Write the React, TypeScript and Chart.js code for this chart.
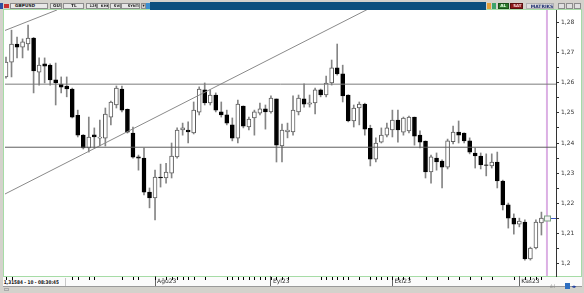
import React, { useEffect, useRef } from "react";
import { Chart, registerables } from "chart.js";

Chart.register(...registerables);

// ---- data ----
const opens = [
  1.2619, 1.2668, 1.2728, 1.2718, 1.2728, 1.2748, 1.2635, 1.2662, 1.2658, 1.2609,
  1.2595, 1.2589, 1.2579, 1.2492, 1.2426, 1.2384, 1.2427, 1.2416, 1.2416, 1.2486,
  1.2526, 1.2579, 1.2512, 1.2433, 1.2354, 1.2350, 1.2237, 1.2218, 1.2287, 1.2284,
  1.2300, 1.2354, 1.2443, 1.2443, 1.2433, 1.2502, 1.2576, 1.2533, 1.2559, 1.2503,
  1.2493, 1.2460, 1.2416, 1.2522, 1.2453, 1.2483, 1.2499, 1.2513, 1.2503, 1.2546,
  1.2390, 1.2437, 1.2437, 1.2503, 1.2546, 1.2529, 1.2533, 1.2576, 1.2559, 1.2599,
  1.2649, 1.2629, 1.2559, 1.2473, 1.2516, 1.2529, 1.2449, 1.2346, 1.2403, 1.2426,
  1.2443, 1.2476, 1.2436, 1.2440, 1.2486, 1.2426, 1.2406, 1.2304, 1.2350, 1.2340,
  1.2320, 1.2404, 1.2436, 1.2433, 1.2407, 1.2367, 1.2357, 1.2328, 1.2324, 1.2337,
  1.2274, 1.2195, 1.2151, 1.2131, 1.2138, 1.2016, 1.2052, 1.2135,
];
const highs = [
  1.2685, 1.2774, 1.2751, 1.2745, 1.2791, 1.2750, 1.2682, 1.2682, 1.2662, 1.2665,
  1.2619, 1.2619, 1.2582, 1.2509, 1.2428, 1.2486, 1.2450, 1.2476, 1.2516, 1.2539,
  1.2589, 1.2589, 1.2513, 1.2453, 1.2360, 1.2383, 1.2251, 1.2310, 1.2330, 1.2333,
  1.2400, 1.2450, 1.2466, 1.2470, 1.2536, 1.2586, 1.2599, 1.2576, 1.2566, 1.2536,
  1.2509, 1.2483, 1.2542, 1.2523, 1.2486, 1.2509, 1.2532, 1.2526, 1.2556, 1.2546,
  1.2463, 1.2466, 1.2556, 1.2559, 1.2596, 1.2559, 1.2582, 1.2579, 1.2622, 1.2675,
  1.2728, 1.2658, 1.2560, 1.2526, 1.2536, 1.2532, 1.2459, 1.2417, 1.2450, 1.2466,
  1.2509, 1.2509, 1.2486, 1.2489, 1.2486, 1.2440, 1.2407, 1.2360, 1.2367, 1.2344,
  1.2413, 1.2456, 1.2473, 1.2434, 1.2417, 1.2383, 1.2367, 1.2364, 1.2364, 1.2370,
  1.2277, 1.2201, 1.2165, 1.2151, 1.2145, 1.2055, 1.2145, 1.2171,
];
const lows = [
  1.2615, 1.2619, 1.2682, 1.2682, 1.2708, 1.2566, 1.2592, 1.2599, 1.2592, 1.2526,
  1.2566, 1.2553, 1.2483, 1.2420, 1.2380, 1.2370, 1.2384, 1.2390, 1.2390, 1.2460,
  1.2516, 1.2503, 1.2433, 1.2350, 1.2310, 1.2228, 1.2185, 1.2145, 1.2254, 1.2267,
  1.2284, 1.2350, 1.2426, 1.2400, 1.2430, 1.2493, 1.2526, 1.2526, 1.2503, 1.2486,
  1.2460, 1.2407, 1.2400, 1.2450, 1.2443, 1.2426, 1.2493, 1.2446, 1.2499, 1.2337,
  1.2337, 1.2417, 1.2426, 1.2493, 1.2519, 1.2519, 1.2496, 1.2553, 1.2553, 1.2592,
  1.2625, 1.2536, 1.2470, 1.2453, 1.2460, 1.2426, 1.2324, 1.2337, 1.2400, 1.2420,
  1.2420, 1.2403, 1.2426, 1.2433, 1.2393, 1.2384, 1.2284, 1.2267, 1.2310, 1.2251,
  1.2314, 1.2397, 1.2400, 1.2400, 1.2364, 1.2317, 1.2314, 1.2291, 1.2317, 1.2251,
  1.2178, 1.2118, 1.2098, 1.2122, 1.2012, 1.2012, 1.2049, 1.2095,
];
const closes = [
  1.2668, 1.2728, 1.2718, 1.2735, 1.2748, 1.2639, 1.2658, 1.2655, 1.2609, 1.2599,
  1.2585, 1.2579, 1.2486, 1.2426, 1.2384, 1.2420, 1.2420, 1.2420, 1.2496, 1.2536,
  1.2582, 1.2509, 1.2436, 1.2353, 1.2350, 1.2237, 1.2218, 1.2287, 1.2284, 1.2304,
  1.2357, 1.2443, 1.2450, 1.2437, 1.2509, 1.2579, 1.2533, 1.2559, 1.2509, 1.2493,
  1.2466, 1.2416, 1.2529, 1.2456, 1.2479, 1.2503, 1.2513, 1.2503, 1.2549, 1.2393,
  1.2443, 1.2443, 1.2509, 1.2549, 1.2529, 1.2533, 1.2576, 1.2559, 1.2599, 1.2649,
  1.2629, 1.2556, 1.2473, 1.2516, 1.2529, 1.2446, 1.2346, 1.2400, 1.2426, 1.2450,
  1.2476, 1.2443, 1.2483, 1.2486, 1.2423, 1.2403, 1.2304, 1.2354, 1.2337, 1.2320,
  1.2407, 1.2436, 1.2426, 1.2407, 1.2370, 1.2357, 1.2327, 1.2326, 1.2337, 1.2274,
  1.2195, 1.2151, 1.2131, 1.2141, 1.2016, 1.2052, 1.2138, 1.2151,
];

const monthTickIndex = [27, 48, 70, 93];
const monthLabels = ["Ağu23", "Eyl23", "Eki23", "Kas23"];

const yTickValues = [
  1.2, 1.205, 1.21, 1.215, 1.22, 1.225, 1.23, 1.235, 1.24,
  1.245, 1.25, 1.255, 1.26, 1.265, 1.27, 1.275, 1.28,
];
const yTickLabels = [
  "1,2", "", "1,21", "", "1,22", "", "1,23", "", "1,24",
  "", "1,25", "", "1,26", "", "1,27", "", "1,28",
];

const horizontalLevels = [1.2595, 1.2386];
const trendLowerX = [-0.18, 65.4];
const trendLowerY = [1.2231, 1.2842];
const trendUpperX = [-0.18, 9.24];
const trendUpperY = [1.2773, 1.2841];
const cursorIndex = 98;
const markerIndices = [
  0, 1, 12, 13, 15, 16, 21, 23, 24, 27, 29, 30, 31, 32, 33, 34, 36,
  40, 41, 42, 43, 44, 45, 46, 47, 48, 49, 50, 51,
  57, 58, 59, 60, 61, 62, 64, 66, 67, 68, 69, 70, 71, 72, 73,
  76, 78, 80, 82, 84, 86, 88, 92, 94, 95, 96, 97,
];
const statusText = "1,31584 - 10 - 08:30:45";

const X_MIN = -0.181;
const X_MAX = 99.64;
const Y_MIN = 1.19592;
const Y_MAX = 1.28408;

const FONT = "DejaVu Sans";

const overlayPlugin = {
  id: "overlayMarks",
  afterDatasetsDraw(chart: any) {
    const { ctx, chartArea, scales } = chart;
    const xs = scales.x;
    const ys = scales.y;
    ctx.save();
    const lastY = Math.round(ys.getPixelForValue(closes[closes.length - 1])) + 0.5;
    const cx = Math.round(xs.getPixelForValue(cursorIndex));
    ctx.strokeStyle = "#3a56c8";
    ctx.lineWidth = 1;
    ctx.beginPath();
    ctx.moveTo(cx + 3, lastY);
    ctx.lineTo(chartArea.right, lastY);
    ctx.stroke();
    ctx.fillStyle = "#f2f2f2";
    ctx.fillRect(cx - 3, lastY - 2.5, 6, 5);
    ctx.strokeStyle = "#7f9f86";
    ctx.strokeRect(cx - 3 + 0.5, lastY - 2.5, 6, 5);
    ctx.restore();
  },
  afterDraw(chart: any) {
    const { ctx, chartArea, scales } = chart;
    const xs = scales.x;
    ctx.save();
    ctx.fillStyle = "#000";
    markerIndices.forEach((i) => {
      const px = Math.round(xs.getPixelForValue(i));
      ctx.fillRect(px, chartArea.bottom + 1, 1, 3);
    });
    ctx.restore();
  },
};

function lineDs(xs: number[], ys: number[], color: string, width: number) {
  return {
    type: "line" as const,
    data: xs.map((x, k) => ({ x, y: ys[k] })),
    borderColor: color,
    borderWidth: width,
    pointRadius: 0,
    fill: false,
    order: 0,
  };
}

const tinyText = (label: string, scale: number) => (
  <span
    style={{
      display: "inline-block",
      transform: `scale(${scale})`,
      transformOrigin: "center center",
      whiteSpace: "nowrap",
    }}
  >
    {label}
  </span>
);

export default function App() {
  const ref = useRef<HTMLCanvasElement>(null);

  useEffect(() => {
    const canvas = ref.current;
    if (!canvas) return;
    const idx = closes.map((_, i) => i);
    const up = (i: number) => closes[i] >= opens[i];
    const chart = new Chart(canvas, {
      type: "bar",
      data: {
        datasets: [
          lineDs([X_MIN, X_MAX], [horizontalLevels[0], horizontalLevels[0]], "#7b7b7b", 1),
          lineDs([X_MIN, X_MAX], [horizontalLevels[1], horizontalLevels[1]], "#5e5e5e", 1),
          lineDs(trendLowerX, trendLowerY, "#8a8a8a", 1),
          lineDs(trendUpperX, trendUpperY, "#8a8a8a", 1),
          { ...lineDs([cursorIndex, cursorIndex], [Y_MIN, Y_MAX], "#dcb0e4", 2), order: 5 },
          {
            type: "bar",
            data: idx.map((i) => ({ x: i, y: [lows[i], highs[i]] })),
            backgroundColor: "#858585",
            borderWidth: 0,
            barThickness: 1,
            grouped: false,
            order: 3,
          },
          {
            type: "bar",
            data: idx.map((i) => ({ x: i, y: [opens[i], closes[i]] })),
            backgroundColor: idx.map((i) => (up(i) ? "#ffffff" : "#000000")),
            borderColor: idx.map((i) => (up(i) ? "#5c5c5c" : "#000000")),
            borderWidth: 1,
            borderSkipped: false,
            barThickness: 4,
            grouped: false,
            order: 2,
          },
        ] as any,
      },
      options: {
        animation: false,
        responsive: false,
        devicePixelRatio: 1,
        layout: { padding: { left: 5, top: 10, right: 0, bottom: 0 } },
        plugins: { legend: { display: false }, tooltip: { enabled: false } },
        scales: {
          x: {
            type: "linear",
            min: X_MIN,
            max: X_MAX,
            offset: false,
            position: "bottom",
            afterFit: (s: any) => {
              s.height = 17;
            },
            afterBuildTicks: (s: any) => {
              s.ticks = monthTickIndex.map((v) => ({ value: v }));
            },
            ticks: {
              callback: (_v: any, i: number) => monthLabels[i] ?? "",
              align: "start",
              labelOffset: 2,
              padding: -8,
              maxRotation: 0,
              autoSkip: false,
              font: { size: 6, family: FONT },
              color: "#333",
            },
            grid: { drawOnChartArea: false, drawTicks: true, tickLength: 10, color: "#666", offset: false },
            border: { display: false },
          },
          y: {
            type: "linear",
            position: "right",
            min: Y_MIN,
            max: Y_MAX,
            afterFit: (s: any) => {
              s.width = 28;
            },
            afterBuildTicks: (s: any) => {
              s.ticks = yTickValues.map((v) => ({ value: v }));
            },
            ticks: {
              callback: (_v: any, i: number) => yTickLabels[i] ?? "",
              padding: 2,
              autoSkip: false,
              font: { size: 6, family: FONT },
              color: "#333",
            },
            grid: { drawOnChartArea: false, tickLength: 3, color: "#333" },
            border: { display: true, color: "#333", width: 1 },
          },
        },
      } as any,
      plugins: [overlayPlugin],
    });
    return () => chart.destroy();
  }, []);

  const btn = (label: string, left: number, width: number, extra: any = {}, scale = 0.72) => (
    <div
      key={label + left}
      style={{
        position: "absolute",
        top: 3,
        left,
        width,
        height: 6,
        boxSizing: "border-box",
        border: "1px solid #8c8c8c",
        background: "#e6e6e6",
        fontFamily: FONT,
        fontSize: 6,
        fontWeight: "bold",
        lineHeight: "4px",
        textAlign: "center",
        color: "#1e1e1e",
        overflow: "hidden",
        whiteSpace: "nowrap",
        ...extra,
      }}
    >
      {label ? tinyText(label, scale) : null}
    </div>
  );

  return (
    <div
      style={{
        position: "absolute",
        left: 0,
        top: 0,
        width: 584,
        height: 293,
        background: "#d4d2cc",
        overflow: "hidden",
      }}
    >
      <div
        style={{
          position: "absolute",
          left: 3,
          top: 9,
          width: 579,
          height: 268,
          boxSizing: "border-box",
          background: "#ffffff",
          border: "1px solid #a6dca6",
        }}
      />
      <div
        style={{
          position: "absolute",
          left: 3,
          top: 277,
          width: 579,
          height: 10,
          boxSizing: "border-box",
          background: "#fbfbfb",
          borderBottom: "1px solid #9a9a9a",
        }}
      />
      <div
        style={{
          position: "absolute",
          left: 3,
          top: 278,
          width: 63,
          height: 8,
          boxSizing: "border-box",
          borderRight: "1px solid #c8c8c8",
          fontFamily: FONT,
          fontSize: 6,
          fontWeight: "bold",
          lineHeight: "8px",
          color: "#111",
          whiteSpace: "nowrap",
          overflow: "hidden",
        }}
      >
        <span
          style={{
            display: "inline-block",
            transform: "scale(0.7, 0.85)",
            transformOrigin: "left center",
            paddingLeft: 1,
          }}
        >
          {statusText}
        </span>
      </div>
      <canvas
        ref={ref}
        width={584}
        height={293}
        style={{ position: "absolute", left: 0, top: 0, width: 584, height: 293 }}
      />
      {/* toolbar */}
      <div style={{ position: "absolute", left: 0, top: 3, width: 3, height: 6, background: "#2c4fa0" }} />
      <div style={{ position: "absolute", left: 4, top: 4, width: 5, height: 4, background: "#c83030" }} />
      {btn("GBPUSD", 10, 38, { textAlign: "left", background: "#e8e8e8" })}
      {btn("GÜN", 50, 12)}
      {btn("TL", 63, 21)}
      {btn("12S", 86, 11, {}, 0.6)}
      {btn("KHK", 97, 12, {}, 0.6)}
      {btn("SVD", 110, 11, {}, 0.6)}
      {btn("SYNTMP", 121, 19, {}, 0.6)}
      {btn("▾", 141, 5, { background: "#d0d0d0" })}
      <div style={{ position: "absolute", left: 146, top: 3, width: 4, height: 6, background: "#3b8fd0" }} />
      <div style={{ position: "absolute", left: 150, top: 2, width: 336, height: 8, background: "#0b4f7e" }} />
      <div style={{ position: "absolute", left: 487, top: 3, width: 4, height: 6, background: "#e2a13a" }} />
      <div style={{ position: "absolute", left: 492, top: 3, width: 4, height: 6, background: "#3da36b" }} />
      {btn("AL", 498, 11, { background: "#2b7a2b", color: "#e8ffe8", border: "1px solid #1b4f1b" })}
      {btn("SAT", 510, 13, { background: "#8c1a1a", color: "#ffe6e6", border: "1px solid #5a0f0f" }, 0.65)}
      {btn("MATRIKS", 526, 28, { background: "#dedede", color: "#1b2b6e", border: "1px solid #b0b0b0" }, 0.75)}
      {btn("", 558, 7, { background: "#e0e0e0" })}
      {btn("", 566, 7, { background: "#e0e0e0" })}
      {btn("", 574, 7, { background: "#e0e0e0" })}
      <div
        style={{
          position: "absolute",
          left: 549,
          top: 283,
          fontFamily: FONT,
          fontSize: 6,
          color: "#888",
          lineHeight: "5px",
        }}
      >
        {tinyText("ılıl", 0.8)}
      </div>
      <div style={{ position: "absolute", left: 565, top: 283, width: 5, height: 6, background: "#2f6fc0" }} />
      <div
        style={{
          position: "absolute",
          left: 571,
          top: 283,
          fontFamily: FONT,
          fontSize: 6,
          color: "#1f3f9f",
          lineHeight: "6px",
        }}
      >
        {tinyText("◂▸", 0.8)}
      </div>
      <div style={{ position: "absolute", left: 4, top: 288, width: 5, height: 3, border: "1px solid #aaa", boxSizing: "border-box" }} />
    </div>
  );
}
